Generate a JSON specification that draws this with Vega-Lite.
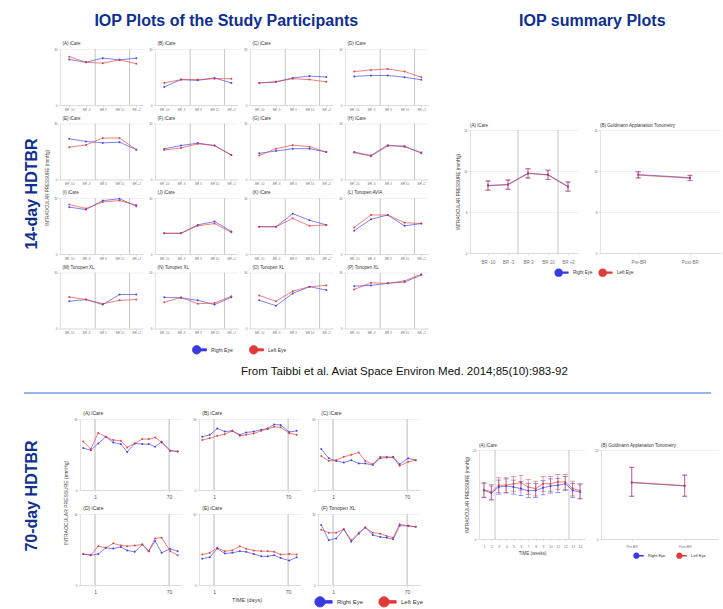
{
"$schema": "https://vega.github.io/schema/vega-lite/v6.json",
"background": "white",
"padding": {"left": 23, "top": 13, "right": 2, "bottom": 1},
"config": {
 "font": "Liberation Sans",
 "view": {"stroke": null},
 "axis": {"gridColor": "#e2e2e2", "gridWidth": 0.5, "domainColor": "#cccccc", "domainWidth": 0.6, "tickColor": "#c4c4c4", "tickSize": 2, "tickWidth": 0.5, "labelFontSize": 3, "labelColor": "#777777", "labelPadding": 1, "titleFontSize": 4.5, "titleFontWeight": "normal", "titleColor": "#444444", "titlePadding": 3},
 "axisX": {"grid": false},
 "axisY": {"grid": true},
 "title": {"fontSize": 4.5, "fontWeight": "normal", "color": "#333333", "anchor": "start", "offset": 2, "font": "Liberation Sans", "frame": "group"},
 "line": {"strokeWidth": 0.8, "opacity": 0.8},
 "circle": {"size": 4, "opacity": 0.9}
},
"datasets": {
 "g14": [
  {"r":1,"c":1,"t":1,"v":24.4,"e":"Right Eye","n":"(A) iCare"},{"r":1,"c":1,"t":2,"v":22.9,"e":"Right Eye"},{"r":1,"c":1,"t":3,"v":25.1,"e":"Right Eye"},{"r":1,"c":1,"t":4,"v":24.2,"e":"Right Eye"},{"r":1,"c":1,"t":5,"v":25.1,"e":"Right Eye"},
  {"r":1,"c":1,"t":1,"v":25.9,"e":"Left Eye"},{"r":1,"c":1,"t":2,"v":22.9,"e":"Left Eye"},{"r":1,"c":1,"t":3,"v":22.4,"e":"Left Eye"},{"r":1,"c":1,"t":4,"v":24.2,"e":"Left Eye"},{"r":1,"c":1,"t":5,"v":22.1,"e":"Left Eye"},
  {"r":1,"c":2,"t":1,"v":9.7,"e":"Right Eye","n":"(B) iCare"},{"r":1,"c":2,"t":2,"v":13.6,"e":"Right Eye"},{"r":1,"c":2,"t":3,"v":13.2,"e":"Right Eye"},{"r":1,"c":2,"t":4,"v":14.5,"e":"Right Eye"},{"r":1,"c":2,"t":5,"v":11.8,"e":"Right Eye"},
  {"r":1,"c":2,"t":1,"v":11.8,"e":"Left Eye"},{"r":1,"c":2,"t":2,"v":13.6,"e":"Left Eye"},{"r":1,"c":2,"t":3,"v":13.6,"e":"Left Eye"},{"r":1,"c":2,"t":4,"v":14.1,"e":"Left Eye"},{"r":1,"c":2,"t":5,"v":14.1,"e":"Left Eye"},
  {"r":1,"c":3,"t":1,"v":11.8,"e":"Right Eye","n":"(C) iCare"},{"r":1,"c":3,"t":2,"v":12.4,"e":"Right Eye"},{"r":1,"c":3,"t":3,"v":14.5,"e":"Right Eye"},{"r":1,"c":3,"t":4,"v":15.5,"e":"Right Eye"},{"r":1,"c":3,"t":5,"v":15.0,"e":"Right Eye"},
  {"r":1,"c":3,"t":1,"v":11.8,"e":"Left Eye"},{"r":1,"c":3,"t":2,"v":12.4,"e":"Left Eye"},{"r":1,"c":3,"t":3,"v":14.1,"e":"Left Eye"},{"r":1,"c":3,"t":4,"v":13.6,"e":"Left Eye"},{"r":1,"c":3,"t":5,"v":12.4,"e":"Left Eye"},
  {"r":1,"c":4,"t":1,"v":15.3,"e":"Right Eye","n":"(D) iCare"},{"r":1,"c":4,"t":2,"v":15.8,"e":"Right Eye"},{"r":1,"c":4,"t":3,"v":15.8,"e":"Right Eye"},{"r":1,"c":4,"t":4,"v":14.9,"e":"Right Eye"},{"r":1,"c":4,"t":5,"v":13.5,"e":"Right Eye"},
  {"r":1,"c":4,"t":1,"v":17.9,"e":"Left Eye"},{"r":1,"c":4,"t":2,"v":18.8,"e":"Left Eye"},{"r":1,"c":4,"t":3,"v":19.3,"e":"Left Eye"},{"r":1,"c":4,"t":4,"v":17.9,"e":"Left Eye"},{"r":1,"c":4,"t":5,"v":14.9,"e":"Left Eye"},
  {"r":2,"c":1,"t":1,"v":21.8,"e":"Right Eye","n":"(E) iCare"},{"r":2,"c":1,"t":2,"v":20.4,"e":"Right Eye"},{"r":2,"c":1,"t":3,"v":19.6,"e":"Right Eye"},{"r":2,"c":1,"t":4,"v":20.0,"e":"Right Eye"},{"r":2,"c":1,"t":5,"v":16.0,"e":"Right Eye"},
  {"r":2,"c":1,"t":1,"v":17.3,"e":"Left Eye"},{"r":2,"c":1,"t":2,"v":18.5,"e":"Left Eye"},{"r":2,"c":1,"t":3,"v":22.2,"e":"Left Eye"},{"r":2,"c":1,"t":4,"v":22.2,"e":"Left Eye"},{"r":2,"c":1,"t":5,"v":16.0,"e":"Left Eye"},
  {"r":2,"c":2,"t":1,"v":16.4,"e":"Right Eye","n":"(F) iCare"},{"r":2,"c":2,"t":2,"v":18.2,"e":"Right Eye"},{"r":2,"c":2,"t":3,"v":19.5,"e":"Right Eye"},{"r":2,"c":2,"t":4,"v":18.2,"e":"Right Eye"},{"r":2,"c":2,"t":5,"v":13.1,"e":"Right Eye"},
  {"r":2,"c":2,"t":1,"v":15.8,"e":"Left Eye"},{"r":2,"c":2,"t":2,"v":16.9,"e":"Left Eye"},{"r":2,"c":2,"t":3,"v":19.1,"e":"Left Eye"},{"r":2,"c":2,"t":4,"v":18.2,"e":"Left Eye"},{"r":2,"c":2,"t":5,"v":13.1,"e":"Left Eye"},
  {"r":2,"c":3,"t":1,"v":14.0,"e":"Right Eye","n":"(G) iCare"},{"r":2,"c":3,"t":2,"v":15.3,"e":"Right Eye"},{"r":2,"c":3,"t":3,"v":16.5,"e":"Right Eye"},{"r":2,"c":3,"t":4,"v":16.5,"e":"Right Eye"},{"r":2,"c":3,"t":5,"v":14.7,"e":"Right Eye"},
  {"r":2,"c":3,"t":1,"v":12.9,"e":"Left Eye"},{"r":2,"c":3,"t":2,"v":16.5,"e":"Left Eye"},{"r":2,"c":3,"t":3,"v":18.4,"e":"Left Eye"},{"r":2,"c":3,"t":4,"v":17.6,"e":"Left Eye"},{"r":2,"c":3,"t":5,"v":14.7,"e":"Left Eye"},
  {"r":2,"c":4,"t":1,"v":14.7,"e":"Right Eye","n":"(H) iCare"},{"r":2,"c":4,"t":2,"v":12.9,"e":"Right Eye"},{"r":2,"c":4,"t":3,"v":18.4,"e":"Right Eye"},{"r":2,"c":4,"t":4,"v":17.5,"e":"Right Eye"},{"r":2,"c":4,"t":5,"v":14.4,"e":"Right Eye"},
  {"r":2,"c":4,"t":1,"v":14.4,"e":"Left Eye"},{"r":2,"c":4,"t":2,"v":12.5,"e":"Left Eye"},{"r":2,"c":4,"t":3,"v":18.0,"e":"Left Eye"},{"r":2,"c":4,"t":4,"v":18.0,"e":"Left Eye"},{"r":2,"c":4,"t":5,"v":14.0,"e":"Left Eye"},
  {"r":3,"c":1,"t":1,"v":25.1,"e":"Right Eye","n":"(I) iCare"},{"r":3,"c":1,"t":2,"v":23.8,"e":"Right Eye"},{"r":3,"c":1,"t":3,"v":28.6,"e":"Right Eye"},{"r":3,"c":1,"t":4,"v":29.6,"e":"Right Eye"},{"r":3,"c":1,"t":5,"v":25.6,"e":"Right Eye"},
  {"r":3,"c":1,"t":1,"v":26.5,"e":"Left Eye"},{"r":3,"c":1,"t":2,"v":24.4,"e":"Left Eye"},{"r":3,"c":1,"t":3,"v":27.9,"e":"Left Eye"},{"r":3,"c":1,"t":4,"v":28.6,"e":"Left Eye"},{"r":3,"c":1,"t":5,"v":26.2,"e":"Left Eye"},
  {"r":3,"c":2,"t":1,"v":11.1,"e":"Right Eye","n":"(J) iCare"},{"r":3,"c":2,"t":2,"v":11.1,"e":"Right Eye"},{"r":3,"c":2,"t":3,"v":15.6,"e":"Right Eye"},{"r":3,"c":2,"t":4,"v":17.4,"e":"Right Eye"},{"r":3,"c":2,"t":5,"v":12.1,"e":"Right Eye"},
  {"r":3,"c":2,"t":1,"v":11.1,"e":"Left Eye"},{"r":3,"c":2,"t":2,"v":11.1,"e":"Left Eye"},{"r":3,"c":2,"t":3,"v":15.1,"e":"Left Eye"},{"r":3,"c":2,"t":4,"v":16.3,"e":"Left Eye"},{"r":3,"c":2,"t":5,"v":11.6,"e":"Left Eye"},
  {"r":3,"c":3,"t":1,"v":14.6,"e":"Right Eye","n":"(K) iCare"},{"r":3,"c":3,"t":2,"v":14.6,"e":"Right Eye"},{"r":3,"c":3,"t":3,"v":21.6,"e":"Right Eye"},{"r":3,"c":3,"t":4,"v":18.1,"e":"Right Eye"},{"r":3,"c":3,"t":5,"v":15.6,"e":"Right Eye"},
  {"r":3,"c":3,"t":1,"v":14.6,"e":"Left Eye"},{"r":3,"c":3,"t":2,"v":14.6,"e":"Left Eye"},{"r":3,"c":3,"t":3,"v":19.1,"e":"Left Eye"},{"r":3,"c":3,"t":4,"v":15.1,"e":"Left Eye"},{"r":3,"c":3,"t":5,"v":15.6,"e":"Left Eye"},
  {"r":3,"c":4,"t":1,"v":12.5,"e":"Right Eye","n":"(L) Tonopen AVIA"},{"r":3,"c":4,"t":2,"v":18.6,"e":"Right Eye"},{"r":3,"c":4,"t":3,"v":20.9,"e":"Right Eye"},{"r":3,"c":4,"t":4,"v":15.1,"e":"Right Eye"},{"r":3,"c":4,"t":5,"v":16.3,"e":"Right Eye"},
  {"r":3,"c":4,"t":1,"v":14.2,"e":"Left Eye"},{"r":3,"c":4,"t":2,"v":20.9,"e":"Left Eye"},{"r":3,"c":4,"t":3,"v":20.9,"e":"Left Eye"},{"r":3,"c":4,"t":4,"v":16.8,"e":"Left Eye"},{"r":3,"c":4,"t":5,"v":16.3,"e":"Left Eye"},
  {"r":4,"c":1,"t":1,"v":14.6,"e":"Right Eye","n":"(M) Tonopen XL"},{"r":4,"c":1,"t":2,"v":15.5,"e":"Right Eye"},{"r":4,"c":1,"t":3,"v":12.8,"e":"Right Eye"},{"r":4,"c":1,"t":4,"v":18.2,"e":"Right Eye"},{"r":4,"c":1,"t":5,"v":18.2,"e":"Right Eye"},
  {"r":4,"c":1,"t":1,"v":16.9,"e":"Left Eye"},{"r":4,"c":1,"t":2,"v":15.5,"e":"Left Eye"},{"r":4,"c":1,"t":3,"v":13.3,"e":"Left Eye"},{"r":4,"c":1,"t":4,"v":15.1,"e":"Left Eye"},{"r":4,"c":1,"t":5,"v":15.5,"e":"Left Eye"},
  {"r":4,"c":2,"t":1,"v":16.7,"e":"Right Eye","n":"(N) Tonopen XL"},{"r":4,"c":2,"t":2,"v":16.4,"e":"Right Eye"},{"r":4,"c":2,"t":3,"v":15.1,"e":"Right Eye"},{"r":4,"c":2,"t":4,"v":12.8,"e":"Right Eye"},{"r":4,"c":2,"t":5,"v":16.7,"e":"Right Eye"},
  {"r":4,"c":2,"t":1,"v":14.0,"e":"Left Eye"},{"r":4,"c":2,"t":2,"v":16.7,"e":"Left Eye"},{"r":4,"c":2,"t":3,"v":13.3,"e":"Left Eye"},{"r":4,"c":2,"t":4,"v":13.6,"e":"Left Eye"},{"r":4,"c":2,"t":5,"v":17.3,"e":"Left Eye"},
  {"r":4,"c":3,"t":1,"v":15.1,"e":"Right Eye","n":"(O) Tonopen XL"},{"r":4,"c":3,"t":2,"v":12.2,"e":"Right Eye"},{"r":4,"c":3,"t":3,"v":18.8,"e":"Right Eye"},{"r":4,"c":3,"t":4,"v":22.4,"e":"Right Eye"},{"r":4,"c":3,"t":5,"v":20.6,"e":"Right Eye"},
  {"r":4,"c":3,"t":1,"v":17.7,"e":"Left Eye"},{"r":4,"c":3,"t":2,"v":14.6,"e":"Left Eye"},{"r":4,"c":3,"t":3,"v":20.0,"e":"Left Eye"},{"r":4,"c":3,"t":4,"v":22.4,"e":"Left Eye"},{"r":4,"c":3,"t":5,"v":23.1,"e":"Left Eye"},
  {"r":4,"c":4,"t":1,"v":22.7,"e":"Right Eye","n":"(P) Tonopen XL"},{"r":4,"c":4,"t":2,"v":23.1,"e":"Right Eye"},{"r":4,"c":4,"t":3,"v":24.2,"e":"Right Eye"},{"r":4,"c":4,"t":4,"v":24.9,"e":"Right Eye"},{"r":4,"c":4,"t":5,"v":28.6,"e":"Right Eye"},
  {"r":4,"c":4,"t":1,"v":20.9,"e":"Left Eye"},{"r":4,"c":4,"t":2,"v":24.5,"e":"Left Eye"},{"r":4,"c":4,"t":3,"v":24.2,"e":"Left Eye"},{"r":4,"c":4,"t":4,"v":25.5,"e":"Left Eye"},{"r":4,"c":4,"t":5,"v":29.1,"e":"Left Eye"}
 ],
 "g70": [
  {"r":1,"c":1,"t":-10,"v":17.7,"e":"Right Eye","n":"(A) iCare"},{"r":1,"c":1,"t":-3,"v":16.8,"e":"Right Eye"},{"r":1,"c":1,"t":4,"v":19.7,"e":"Right Eye"},{"r":1,"c":1,"t":11,"v":22.5,"e":"Right Eye"},{"r":1,"c":1,"t":18,"v":20.1,"e":"Right Eye"},{"r":1,"c":1,"t":25,"v":19.4,"e":"Right Eye"},{"r":1,"c":1,"t":31,"v":16.1,"e":"Right Eye"},{"r":1,"c":1,"t":38,"v":19.7,"e":"Right Eye"},{"r":1,"c":1,"t":45,"v":19.4,"e":"Right Eye"},{"r":1,"c":1,"t":51,"v":19.4,"e":"Right Eye"},{"r":1,"c":1,"t":57,"v":18.3,"e":"Right Eye"},{"r":1,"c":1,"t":63,"v":20.4,"e":"Right Eye"},{"r":1,"c":1,"t":71,"v":16.6,"e":"Right Eye"},{"r":1,"c":1,"t":78,"v":16.3,"e":"Right Eye"},
  {"r":1,"c":1,"t":-10,"v":20.5,"e":"Left Eye"},{"r":1,"c":1,"t":-3,"v":17.3,"e":"Left Eye"},{"r":1,"c":1,"t":4,"v":24.1,"e":"Left Eye"},{"r":1,"c":1,"t":11,"v":22.5,"e":"Left Eye"},{"r":1,"c":1,"t":18,"v":21.1,"e":"Left Eye"},{"r":1,"c":1,"t":25,"v":20.8,"e":"Left Eye"},{"r":1,"c":1,"t":31,"v":18.0,"e":"Left Eye"},{"r":1,"c":1,"t":38,"v":19.7,"e":"Left Eye"},{"r":1,"c":1,"t":45,"v":21.5,"e":"Left Eye"},{"r":1,"c":1,"t":51,"v":21.5,"e":"Left Eye"},{"r":1,"c":1,"t":57,"v":22.2,"e":"Left Eye"},{"r":1,"c":1,"t":63,"v":20.1,"e":"Left Eye"},{"r":1,"c":1,"t":71,"v":16.6,"e":"Left Eye"},{"r":1,"c":1,"t":78,"v":16.3,"e":"Left Eye"},
  {"r":1,"c":2,"t":-10,"v":22.5,"e":"Right Eye","n":"(B) iCare"},{"r":1,"c":2,"t":-3,"v":23.3,"e":"Right Eye"},{"r":1,"c":2,"t":4,"v":26.0,"e":"Right Eye"},{"r":1,"c":2,"t":11,"v":24.7,"e":"Right Eye"},{"r":1,"c":2,"t":18,"v":25.0,"e":"Right Eye"},{"r":1,"c":2,"t":25,"v":23.3,"e":"Right Eye"},{"r":1,"c":2,"t":31,"v":24.3,"e":"Right Eye"},{"r":1,"c":2,"t":38,"v":24.7,"e":"Right Eye"},{"r":1,"c":2,"t":45,"v":25.5,"e":"Right Eye"},{"r":1,"c":2,"t":51,"v":26.0,"e":"Right Eye"},{"r":1,"c":2,"t":57,"v":27.7,"e":"Right Eye"},{"r":1,"c":2,"t":63,"v":27.5,"e":"Right Eye"},{"r":1,"c":2,"t":71,"v":24.5,"e":"Right Eye"},{"r":1,"c":2,"t":78,"v":25.0,"e":"Right Eye"},
  {"r":1,"c":2,"t":-10,"v":21.1,"e":"Left Eye"},{"r":1,"c":2,"t":-3,"v":21.9,"e":"Left Eye"},{"r":1,"c":2,"t":4,"v":22.9,"e":"Left Eye"},{"r":1,"c":2,"t":11,"v":23.6,"e":"Left Eye"},{"r":1,"c":2,"t":18,"v":25.0,"e":"Left Eye"},{"r":1,"c":2,"t":25,"v":22.9,"e":"Left Eye"},{"r":1,"c":2,"t":31,"v":23.3,"e":"Left Eye"},{"r":1,"c":2,"t":38,"v":23.9,"e":"Left Eye"},{"r":1,"c":2,"t":45,"v":25.0,"e":"Left Eye"},{"r":1,"c":2,"t":51,"v":25.8,"e":"Left Eye"},{"r":1,"c":2,"t":57,"v":26.7,"e":"Left Eye"},{"r":1,"c":2,"t":63,"v":26.5,"e":"Left Eye"},{"r":1,"c":2,"t":71,"v":24.0,"e":"Left Eye"},{"r":1,"c":2,"t":78,"v":23.3,"e":"Left Eye"},
  {"r":1,"c":3,"t":-10,"v":17.3,"e":"Right Eye","n":"(C) iCare"},{"r":1,"c":3,"t":-3,"v":13.4,"e":"Right Eye"},{"r":1,"c":3,"t":4,"v":12.3,"e":"Right Eye"},{"r":1,"c":3,"t":11,"v":11.6,"e":"Right Eye"},{"r":1,"c":3,"t":18,"v":12.6,"e":"Right Eye"},{"r":1,"c":3,"t":25,"v":11.2,"e":"Right Eye"},{"r":1,"c":3,"t":31,"v":11.2,"e":"Right Eye"},{"r":1,"c":3,"t":38,"v":10.6,"e":"Right Eye"},{"r":1,"c":3,"t":45,"v":13.4,"e":"Right Eye"},{"r":1,"c":3,"t":51,"v":13.7,"e":"Right Eye"},{"r":1,"c":3,"t":57,"v":14.0,"e":"Right Eye"},{"r":1,"c":3,"t":63,"v":10.9,"e":"Right Eye"},{"r":1,"c":3,"t":71,"v":13.4,"e":"Right Eye"},{"r":1,"c":3,"t":78,"v":12.6,"e":"Right Eye"},
  {"r":1,"c":3,"t":-10,"v":14.4,"e":"Left Eye"},{"r":1,"c":3,"t":-3,"v":12.3,"e":"Left Eye"},{"r":1,"c":3,"t":4,"v":12.6,"e":"Left Eye"},{"r":1,"c":3,"t":11,"v":14.0,"e":"Left Eye"},{"r":1,"c":3,"t":18,"v":14.9,"e":"Left Eye"},{"r":1,"c":3,"t":25,"v":15.8,"e":"Left Eye"},{"r":1,"c":3,"t":31,"v":12.3,"e":"Left Eye"},{"r":1,"c":3,"t":38,"v":10.9,"e":"Left Eye"},{"r":1,"c":3,"t":45,"v":14.0,"e":"Left Eye"},{"r":1,"c":3,"t":51,"v":14.0,"e":"Left Eye"},{"r":1,"c":3,"t":57,"v":13.7,"e":"Left Eye"},{"r":1,"c":3,"t":63,"v":10.2,"e":"Left Eye"},{"r":1,"c":3,"t":71,"v":11.9,"e":"Left Eye"},{"r":1,"c":3,"t":78,"v":12.6,"e":"Left Eye"},
  {"r":2,"c":1,"t":-10,"v":13.1,"e":"Right Eye","n":"(D) iCare"},{"r":2,"c":1,"t":-3,"v":12.6,"e":"Right Eye"},{"r":2,"c":1,"t":4,"v":13.1,"e":"Right Eye"},{"r":2,"c":1,"t":11,"v":15.7,"e":"Right Eye"},{"r":2,"c":1,"t":18,"v":15.4,"e":"Right Eye"},{"r":2,"c":1,"t":25,"v":16.1,"e":"Right Eye"},{"r":2,"c":1,"t":31,"v":14.6,"e":"Right Eye"},{"r":2,"c":1,"t":38,"v":14.0,"e":"Right Eye"},{"r":2,"c":1,"t":45,"v":17.1,"e":"Right Eye"},{"r":2,"c":1,"t":51,"v":14.3,"e":"Right Eye"},{"r":2,"c":1,"t":57,"v":18.6,"e":"Right Eye"},{"r":2,"c":1,"t":63,"v":13.6,"e":"Right Eye"},{"r":2,"c":1,"t":71,"v":15.3,"e":"Right Eye"},{"r":2,"c":1,"t":78,"v":14.3,"e":"Right Eye"},
  {"r":2,"c":1,"t":-10,"v":13.1,"e":"Left Eye"},{"r":2,"c":1,"t":-3,"v":12.6,"e":"Left Eye"},{"r":2,"c":1,"t":4,"v":16.4,"e":"Left Eye"},{"r":2,"c":1,"t":11,"v":15.7,"e":"Left Eye"},{"r":2,"c":1,"t":18,"v":17.6,"e":"Left Eye"},{"r":2,"c":1,"t":25,"v":16.7,"e":"Left Eye"},{"r":2,"c":1,"t":31,"v":16.4,"e":"Left Eye"},{"r":2,"c":1,"t":38,"v":16.7,"e":"Left Eye"},{"r":2,"c":1,"t":45,"v":17.1,"e":"Left Eye"},{"r":2,"c":1,"t":51,"v":14.3,"e":"Left Eye"},{"r":2,"c":1,"t":57,"v":19.7,"e":"Left Eye"},{"r":2,"c":1,"t":63,"v":20.0,"e":"Left Eye"},{"r":2,"c":1,"t":71,"v":14.3,"e":"Left Eye"},{"r":2,"c":1,"t":78,"v":12.6,"e":"Left Eye"},
  {"r":2,"c":2,"t":-10,"v":11.1,"e":"Right Eye","n":"(E) iCare"},{"r":2,"c":2,"t":-3,"v":11.7,"e":"Right Eye"},{"r":2,"c":2,"t":4,"v":15.4,"e":"Right Eye"},{"r":2,"c":2,"t":11,"v":13.3,"e":"Right Eye"},{"r":2,"c":2,"t":18,"v":13.6,"e":"Right Eye"},{"r":2,"c":2,"t":25,"v":14.3,"e":"Right Eye"},{"r":2,"c":2,"t":31,"v":14.0,"e":"Right Eye"},{"r":2,"c":2,"t":38,"v":13.1,"e":"Right Eye"},{"r":2,"c":2,"t":45,"v":12.1,"e":"Right Eye"},{"r":2,"c":2,"t":51,"v":12.1,"e":"Right Eye"},{"r":2,"c":2,"t":57,"v":12.6,"e":"Right Eye"},{"r":2,"c":2,"t":63,"v":11.4,"e":"Right Eye"},{"r":2,"c":2,"t":71,"v":10.3,"e":"Right Eye"},{"r":2,"c":2,"t":78,"v":11.7,"e":"Right Eye"},
  {"r":2,"c":2,"t":-10,"v":12.9,"e":"Left Eye"},{"r":2,"c":2,"t":-3,"v":13.6,"e":"Left Eye"},{"r":2,"c":2,"t":4,"v":15.7,"e":"Left Eye"},{"r":2,"c":2,"t":11,"v":14.3,"e":"Left Eye"},{"r":2,"c":2,"t":18,"v":14.6,"e":"Left Eye"},{"r":2,"c":2,"t":25,"v":16.4,"e":"Left Eye"},{"r":2,"c":2,"t":31,"v":15.3,"e":"Left Eye"},{"r":2,"c":2,"t":38,"v":14.6,"e":"Left Eye"},{"r":2,"c":2,"t":45,"v":14.3,"e":"Left Eye"},{"r":2,"c":2,"t":51,"v":14.3,"e":"Left Eye"},{"r":2,"c":2,"t":57,"v":14.0,"e":"Left Eye"},{"r":2,"c":2,"t":63,"v":12.9,"e":"Left Eye"},{"r":2,"c":2,"t":71,"v":13.1,"e":"Left Eye"},{"r":2,"c":2,"t":78,"v":12.9,"e":"Left Eye"},
  {"r":2,"c":3,"t":-10,"v":25.4,"e":"Right Eye","n":"(F) Tonopen XL"},{"r":2,"c":3,"t":-3,"v":18.9,"e":"Right Eye"},{"r":2,"c":3,"t":4,"v":19.7,"e":"Right Eye"},{"r":2,"c":3,"t":11,"v":23.6,"e":"Right Eye"},{"r":2,"c":3,"t":18,"v":18.3,"e":"Right Eye"},{"r":2,"c":3,"t":25,"v":21.7,"e":"Right Eye"},{"r":2,"c":3,"t":31,"v":24.3,"e":"Right Eye"},{"r":2,"c":3,"t":38,"v":21.1,"e":"Right Eye"},{"r":2,"c":3,"t":45,"v":20.3,"e":"Right Eye"},{"r":2,"c":3,"t":51,"v":20.0,"e":"Right Eye"},{"r":2,"c":3,"t":57,"v":19.3,"e":"Right Eye"},{"r":2,"c":3,"t":63,"v":25.0,"e":"Right Eye"},{"r":2,"c":3,"t":71,"v":25.0,"e":"Right Eye"},{"r":2,"c":3,"t":78,"v":24.6,"e":"Right Eye"},
  {"r":2,"c":3,"t":-10,"v":23.3,"e":"Left Eye"},{"r":2,"c":3,"t":-3,"v":22.1,"e":"Left Eye"},{"r":2,"c":3,"t":4,"v":22.1,"e":"Left Eye"},{"r":2,"c":3,"t":11,"v":23.6,"e":"Left Eye"},{"r":2,"c":3,"t":18,"v":18.9,"e":"Left Eye"},{"r":2,"c":3,"t":25,"v":22.1,"e":"Left Eye"},{"r":2,"c":3,"t":31,"v":24.3,"e":"Left Eye"},{"r":2,"c":3,"t":38,"v":22.1,"e":"Left Eye"},{"r":2,"c":3,"t":45,"v":21.7,"e":"Left Eye"},{"r":2,"c":3,"t":51,"v":20.7,"e":"Left Eye"},{"r":2,"c":3,"t":57,"v":20.0,"e":"Left Eye"},{"r":2,"c":3,"t":63,"v":25.7,"e":"Left Eye"},{"r":2,"c":3,"t":71,"v":25.0,"e":"Left Eye"},{"r":2,"c":3,"t":78,"v":24.6,"e":"Left Eye"}
 ],
 "s14a": [
  {"t":1,"v":13.2,"lo":12.3,"hi":14.1,"e":"Right Eye"},{"t":2,"v":13.3,"lo":12.4,"hi":14.2,"e":"Right Eye"},{"t":3,"v":15.5,"lo":14.6,"hi":16.4,"e":"Right Eye"},{"t":4,"v":15.3,"lo":14.4,"hi":16.2,"e":"Right Eye"},{"t":5,"v":13.0,"lo":12.1,"hi":13.9,"e":"Right Eye"},
  {"t":1,"v":13.1,"lo":12.2,"hi":14.0,"e":"Left Eye"},{"t":2,"v":13.4,"lo":12.5,"hi":14.3,"e":"Left Eye"},{"t":3,"v":15.6,"lo":14.7,"hi":16.5,"e":"Left Eye"},{"t":4,"v":15.2,"lo":14.3,"hi":16.1,"e":"Left Eye"},{"t":5,"v":12.9,"lo":12.0,"hi":13.8,"e":"Left Eye"}
 ],
 "s14b": [
  {"t":1,"v":15.3,"lo":14.7,"hi":15.9,"e":"Right Eye"},{"t":2,"v":14.7,"lo":14.2,"hi":15.2,"e":"Right Eye"},
  {"t":1,"v":15.2,"lo":14.6,"hi":15.8,"e":"Left Eye"},{"t":2,"v":14.6,"lo":14.1,"hi":15.1,"e":"Left Eye"}
 ],
 "s70a": [
  {"t":1,"v":13.1,"lo":11.2,"hi":15.0,"e":"Right Eye"},{"t":2,"v":12.4,"lo":10.5,"hi":14.3,"e":"Right Eye"},{"t":3,"v":14.0,"lo":12.1,"hi":15.9,"e":"Right Eye"},{"t":4,"v":14.3,"lo":12.4,"hi":16.2,"e":"Right Eye"},{"t":5,"v":14.0,"lo":12.1,"hi":15.9,"e":"Right Eye"},{"t":6,"v":13.6,"lo":11.7,"hi":15.5,"e":"Right Eye"},{"t":7,"v":13.0,"lo":11.1,"hi":14.9,"e":"Right Eye"},{"t":8,"v":13.1,"lo":11.2,"hi":15.0,"e":"Right Eye"},{"t":9,"v":13.8,"lo":11.9,"hi":15.7,"e":"Right Eye"},{"t":10,"v":14.3,"lo":12.4,"hi":16.2,"e":"Right Eye"},{"t":11,"v":14.5,"lo":12.6,"hi":16.4,"e":"Right Eye"},{"t":12,"v":14.9,"lo":13.0,"hi":16.8,"e":"Right Eye"},{"t":13,"v":13.1,"lo":11.2,"hi":15.0,"e":"Right Eye"},{"t":14,"v":12.7,"lo":10.8,"hi":14.6,"e":"Right Eye"},
  {"t":1,"v":13.3,"lo":11.3,"hi":15.3,"e":"Left Eye"},{"t":2,"v":12.7,"lo":10.7,"hi":14.7,"e":"Left Eye"},{"t":3,"v":14.5,"lo":12.5,"hi":16.5,"e":"Left Eye"},{"t":4,"v":14.5,"lo":12.5,"hi":16.5,"e":"Left Eye"},{"t":5,"v":14.9,"lo":12.9,"hi":16.9,"e":"Left Eye"},{"t":6,"v":15.2,"lo":13.2,"hi":17.2,"e":"Left Eye"},{"t":7,"v":14.0,"lo":12.0,"hi":16.0,"e":"Left Eye"},{"t":8,"v":13.6,"lo":11.6,"hi":15.6,"e":"Left Eye"},{"t":9,"v":14.9,"lo":12.9,"hi":16.9,"e":"Left Eye"},{"t":10,"v":14.9,"lo":12.9,"hi":16.9,"e":"Left Eye"},{"t":11,"v":15.4,"lo":13.4,"hi":17.4,"e":"Left Eye"},{"t":12,"v":15.4,"lo":13.4,"hi":17.4,"e":"Left Eye"},{"t":13,"v":13.6,"lo":11.6,"hi":15.6,"e":"Left Eye"},{"t":14,"v":13.0,"lo":11.0,"hi":15.0,"e":"Left Eye"}
 ],
 "s70b": [
  {"t":1,"v":15.2,"lo":11.5,"hi":19.3,"e":"Right Eye"},{"t":2,"v":14.3,"lo":11.5,"hi":17.2,"e":"Right Eye"},
  {"t":1,"v":15.3,"lo":11.6,"hi":19.4,"e":"Left Eye"},{"t":2,"v":14.4,"lo":11.6,"hi":17.3,"e":"Left Eye"}
 ]
},
"spacing": 10,
"resolve": {"scale": {"color": "independent"}},
"vconcat": [
 {
  "spacing": 4,
  "resolve": {"scale": {"color": "independent"}},
  "hconcat": [
   {
    "width": 16, "height": 290,
    "data": {"values": [{"s": "14-day HDTBR"}]},
    "mark": {"type": "text", "angle": 270, "fontSize": 16, "fontWeight": "bold", "color": "#0f2f8f"},
    "encoding": {"text": {"field": "s"}}
   },
   {
    "spacing": 27,
    "resolve": {"scale": {"color": "independent"}},
    "hconcat": [
     {
      "title": {"text": "IOP Plots of the Study Participants", "anchor": "middle", "frame": "bounds", "fontSize": 16, "fontWeight": "bold", "color": "#0f2f8f", "offset": 12, "dx": -10},
      "data": {"name": "g14"},
      "bounds": "flush",
      "spacing": {"row": 18.5, "column": 12},
      "facet": {
       "row": {"field": "r", "type": "ordinal", "title": "INTRAOCULAR PRESSURE (mmHg)", "header": {"labels": false, "titleFontSize": 4.5, "titleFontWeight": "normal", "titleColor": "#555555", "titlePadding": 1}},
       "column": {"field": "c", "type": "ordinal", "title": null, "header": {"labels": false}}
      },
      "resolve": {"axis": {"x": "independent", "y": "independent"}},
      "spec": {
       "width": 83, "height": 56,
       "encoding": {"x": {"field": "t", "type": "quantitative", "scale": {"domain": [0.45, 5.4]}, "axis": {"title": null, "values": [1,2,3,4,5], "labelExpr": "['BR -10','BR -3','BR 3','BR 10','BR +2'][datum.value-1]"}}},
       "layer": [
        {"transform": [{"filter": "datum.n"}], "mark": {"type": "rule", "color": "#c6c6c6", "strokeWidth": 1}, "encoding": {"x": {"datum": 2.55}}},
        {"transform": [{"filter": "datum.n"}], "mark": {"type": "rule", "color": "#c6c6c6", "strokeWidth": 1}, "encoding": {"x": {"datum": 4.6}}},
        {"mark": "line", "encoding": {"y": {"field": "v", "type": "quantitative", "scale": {"domain": [0, 30]}, "axis": {"title": null, "values": [0,2,4,6,8,10,12,14,16,18,20,22,24,26,28,30]}}, "color": {"field": "e", "type": "nominal", "scale": {"domain": ["Right Eye", "Left Eye"], "range": ["#3a3ae0", "#e03a3a"]}}}},
        {"mark": "circle", "encoding": {"y": {"field": "v", "type": "quantitative"}, "color": {"field": "e", "type": "nominal", "legend": {"title": null, "orient": "none", "legendX": 132, "legendY": 293, "direction": "horizontal", "symbolType": "M-1,0A0.6,0.6 0 1,0 0.2,0A0.6,0.6 0 1,0 -1,0ZM-0.4,-0.15L-0.4,0.15L1,0.15L1,-0.15Z", "symbolSize": 200, "symbolStrokeWidth": 0, "symbolOpacity": 1, "labelFontSize": 5, "labelColor": "#333333", "columnPadding": 14}}}},
        {"transform": [{"filter": "datum.n"}], "mark": {"type": "text", "align": "left", "baseline": "bottom", "dy": -3, "fontSize": 4.5, "color": "#333333"}, "encoding": {"x": {"datum": 0.6}, "y": {"datum": 30}, "text": {"field": "n"}}}
       ]
      }
     },
     {
      "title": {"text": "IOP summary Plots", "anchor": "middle", "frame": "bounds", "fontSize": 16, "fontWeight": "bold", "color": "#0f2f8f", "offset": 20, "dx": 4},
      "spacing": 8,
      "vconcat": [
       {
        "width": 10, "height": 65,
        "data": {"values": [{"s": ""}]},
        "mark": {"type": "text"},
        "encoding": {"text": {"field": "s"}}
       },
       {
        "spacing": 15,
        "hconcat": [
         {
          "width": 108, "height": 123,
          "title": "(A) iCare",
          "data": {"name": "s14a"},
          "encoding": {"x": {"field": "t", "type": "quantitative", "scale": {"domain": [0.1, 5.5]}, "axis": {"title": null, "values": [1,2,3,4,5], "labelExpr": "['BR -10','BR -3','BR 3','BR 10','BR +2'][datum.value-1]", "labelFontSize": 4.5, "labelPadding": 4}}},
          "layer": [
           {"transform": [{"filter": "datum.t==1 && datum.e=='Right Eye'"}], "mark": {"type": "rule", "color": "#c6c6c6", "strokeWidth": 1}, "encoding": {"x": {"datum": 2.5}}},
           {"transform": [{"filter": "datum.t==1 && datum.e=='Right Eye'"}], "mark": {"type": "rule", "color": "#c6c6c6", "strokeWidth": 1}, "encoding": {"x": {"datum": 4.5}}},
           {"mark": {"type": "errorbar", "ticks": {"opacity": 1}, "rule": {"opacity": 1}, "thickness": 0.5}, "encoding": {"y": {"field": "lo", "type": "quantitative", "scale": {"domain": [0, 24]}, "axis": {"title": "INTRAOCULAR PRESSURE (mmHg)", "values": [0,2,4,6,8,10,12,14,16,18,20,22,24]}}, "y2": {"field": "hi"}, "color": {"field": "e", "type": "nominal", "scale": {"domain": ["Right Eye", "Left Eye"], "range": ["#3a3ae0", "#e03a3a"]}}}},
           {"mark": "line", "encoding": {"y": {"field": "v", "type": "quantitative", "axis": {"title": "INTRAOCULAR PRESSURE (mmHg)"}}, "color": {"field": "e", "type": "nominal"}}},
           {"mark": "circle", "encoding": {"y": {"field": "v", "type": "quantitative", "axis": {"title": "INTRAOCULAR PRESSURE (mmHg)"}}, "color": {"field": "e", "type": "nominal", "legend": {"title": null, "orient": "none", "legendX": 84, "legendY": 216, "direction": "horizontal", "symbolType": "M-1,0A0.6,0.6 0 1,0 0.2,0A0.6,0.6 0 1,0 -1,0ZM-0.4,-0.15L-0.4,0.15L1,0.15L1,-0.15Z", "symbolSize": 200, "symbolStrokeWidth": 0, "symbolOpacity": 1, "labelFontSize": 4.5, "labelColor": "#333333", "columnPadding": 5}}}}
          ]
         },
         {
          "width": 121, "height": 123,
          "title": "(B) Goldmann Applanation Tonometry",
          "data": {"name": "s14b"},
          "encoding": {"x": {"field": "t", "type": "quantitative", "scale": {"domain": [0.26, 2.6]}, "axis": {"title": null, "values": [1,2], "labelExpr": "datum.value==1?'Pre-BR':'Post-BR'", "labelFontSize": 4.5, "labelPadding": 4}}},
          "layer": [
           {"mark": {"type": "errorbar", "ticks": {"opacity": 1}, "rule": {"opacity": 1}, "thickness": 0.5}, "encoding": {"y": {"field": "lo", "type": "quantitative", "scale": {"domain": [0, 24]}, "axis": {"title": null, "values": [0,2,4,6,8,10,12,14,16,18,20,22,24]}}, "y2": {"field": "hi"}, "color": {"field": "e", "type": "nominal"}}},
           {"mark": "line", "encoding": {"y": {"field": "v", "type": "quantitative", "axis": {"title": null}}, "color": {"field": "e", "type": "nominal"}}},
           {"mark": "circle", "encoding": {"y": {"field": "v", "type": "quantitative", "axis": {"title": null}}, "color": {"field": "e", "type": "nominal"}}}
          ]
         }
        ]
       }
      ]
     }
    ]
   }
  ]
 },
 {
  "width": 434, "height": 8,
  "data": {"values": [{"s": "From Taibbi et al. Aviat Space Environ Med. 2014;85(10):983-92"}]},
  "mark": {"type": "text", "align": "left", "fontSize": 11.5, "color": "#111111"},
  "encoding": {"text": {"field": "s"}}
 },
 {
  "width": 687, "height": 13,
  "data": {"values": [{"s": 0}]},
  "mark": {"type": "rule", "color": "#2a6be6", "strokeWidth": 1.2},
  "encoding": {"y": {"datum": 0.615, "scale": {"domain": [0, 1]}, "axis": null}}
 },
 {
  "spacing": 22,
  "resolve": {"scale": {"color": "independent"}},
  "hconcat": [
   {
    "width": 16, "height": 154,
    "data": {"values": [{"s": "70-day HDTBR"}]},
    "mark": {"type": "text", "angle": 270, "fontSize": 16, "fontWeight": "bold", "color": "#0f2f8f"},
    "encoding": {"text": {"field": "s"}}
   },
   {
    "spacing": 40,
    "resolve": {"scale": {"color": "independent"}},
    "hconcat": [
     {
      "data": {"name": "g70"},
      "bounds": "flush",
      "spacing": {"row": 24, "column": 17},
      "facet": {
       "row": {"field": "r", "type": "ordinal", "title": "INTRAOCULAR PRESSURE (mmHg)", "header": {"labels": false, "titleFontSize": 5, "titleFontWeight": "normal", "titleColor": "#444444", "titlePadding": 1}},
       "column": {"field": "c", "type": "ordinal", "title": "TIME (days)", "header": {"labels": false, "titleOrient": "bottom", "titleFontSize": 5.5, "titleFontWeight": "normal", "titleColor": "#444444", "titlePadding": 3}}
      },
      "resolve": {"axis": {"x": "independent", "y": "independent"}},
      "spec": {
       "width": 102, "height": 71,
       "encoding": {"x": {"field": "t", "type": "quantitative", "scale": {"domain": [-13, 82]}, "axis": {"title": null, "values": [1, 70], "labelFontSize": 5, "labelColor": "#555555", "labelPadding": 2}}},
       "layer": [
        {"transform": [{"filter": "datum.n"}], "mark": {"type": "rule", "color": "#c6c6c6", "strokeWidth": 1.2}, "encoding": {"x": {"datum": 1}}},
        {"transform": [{"filter": "datum.n"}], "mark": {"type": "rule", "color": "#c6c6c6", "strokeWidth": 1.2}, "encoding": {"x": {"datum": 70}}},
        {"mark": "line", "encoding": {"y": {"field": "v", "type": "quantitative", "scale": {"domain": [0, 30]}, "axis": {"title": null, "values": [0,2.5,5,7.5,10,12.5,15,17.5,20,22.5,25,27.5,30]}}, "color": {"field": "e", "type": "nominal", "scale": {"domain": ["Right Eye", "Left Eye"], "range": ["#3a3ae0", "#e03a3a"]}}}},
        {"mark": "circle", "encoding": {"y": {"field": "v", "type": "quantitative"}, "color": {"field": "e", "type": "nominal", "legend": {"title": null, "orient": "none", "legendX": 234, "legendY": 173, "direction": "horizontal", "symbolType": "M-1,0A0.6,0.6 0 1,0 0.2,0A0.6,0.6 0 1,0 -1,0ZM-0.4,-0.15L-0.4,0.15L1,0.15L1,-0.15Z", "symbolSize": 300, "symbolStrokeWidth": 0, "symbolOpacity": 1, "labelFontSize": 6, "labelColor": "#333333", "columnPadding": 13}}}},
        {"transform": [{"filter": "datum.n"}], "mark": {"type": "text", "align": "left", "baseline": "bottom", "dy": -3, "fontSize": 5, "color": "#333333"}, "encoding": {"x": {"datum": -10}, "y": {"datum": 30}, "text": {"field": "n"}}}
       ]
      }
     },
     {
      "spacing": 8,
      "vconcat": [
       {
        "width": 10, "height": 15,
        "data": {"values": [{"s": ""}]},
        "mark": {"type": "text"},
        "encoding": {"text": {"field": "s"}}
       },
       {
        "spacing": 9,
        "hconcat": [
         {
          "width": 106, "height": 89,
          "title": "(A) iCare",
          "data": {"name": "s70a"},
          "encoding": {"x": {"field": "t", "type": "quantitative", "scale": {"domain": [0.33, 14.67]}, "axis": {"title": "TIME (weeks)", "values": [1,2,3,4,5,6,7,8,9,10,11,12,13,14], "labelFontSize": 3.5, "labelPadding": 3}}},
          "layer": [
           {"transform": [{"filter": "datum.t==1 && datum.e=='Right Eye'"}], "mark": {"type": "rule", "color": "#c6c6c6", "strokeWidth": 1}, "encoding": {"x": {"datum": 2.5}}},
           {"transform": [{"filter": "datum.t==1 && datum.e=='Right Eye'"}], "mark": {"type": "rule", "color": "#c6c6c6", "strokeWidth": 1}, "encoding": {"x": {"datum": 12.5}}},
           {"mark": {"type": "errorbar", "ticks": {"opacity": 1}, "rule": {"opacity": 1}, "thickness": 0.5}, "encoding": {"y": {"field": "lo", "type": "quantitative", "scale": {"domain": [0, 24]}, "axis": {"title": "INTRAOCULAR PRESSURE (mmHg)", "values": [0,2,4,6,8,10,12,14,16,18,20,22,24]}}, "y2": {"field": "hi"}, "color": {"field": "e", "type": "nominal", "scale": {"domain": ["Right Eye", "Left Eye"], "range": ["#3a3ae0", "#e03a3a"]}}}},
           {"mark": "line", "encoding": {"y": {"field": "v", "type": "quantitative", "axis": {"title": "INTRAOCULAR PRESSURE (mmHg)"}}, "color": {"field": "e", "type": "nominal"}}},
           {"mark": "circle", "encoding": {"y": {"field": "v", "type": "quantitative", "axis": {"title": "INTRAOCULAR PRESSURE (mmHg)"}}, "color": {"field": "e", "type": "nominal", "legend": {"title": null, "orient": "none", "legendX": 154, "legendY": 131, "direction": "horizontal", "symbolType": "M-1,0A0.6,0.6 0 1,0 0.2,0A0.6,0.6 0 1,0 -1,0ZM-0.4,-0.15L-0.4,0.15L1,0.15L1,-0.15Z", "symbolSize": 110, "symbolStrokeWidth": 0, "symbolOpacity": 1, "labelFontSize": 4, "labelColor": "#333333", "columnPadding": 10}}}}
          ]
         },
         {
          "width": 117, "height": 89,
          "title": "(B) Goldmann Applanation Tonometry",
          "data": {"name": "s70b"},
          "encoding": {"x": {"field": "t", "type": "quantitative", "scale": {"domain": [0.42, 2.63]}, "axis": {"title": null, "values": [1,2], "labelExpr": "datum.value==1?'Pre-BR':'Post-BR'", "labelFontSize": 3.5, "labelPadding": 3}}},
          "layer": [
           {"mark": {"type": "errorbar", "ticks": {"opacity": 1}, "rule": {"opacity": 1}, "thickness": 0.5}, "encoding": {"y": {"field": "lo", "type": "quantitative", "scale": {"domain": [0, 24]}, "axis": {"title": null, "values": [0,2,4,6,8,10,12,14,16,18,20,22,24]}}, "y2": {"field": "hi"}, "color": {"field": "e", "type": "nominal"}}},
           {"mark": "line", "encoding": {"y": {"field": "v", "type": "quantitative", "axis": {"title": null}}, "color": {"field": "e", "type": "nominal"}}},
           {"mark": "circle", "encoding": {"y": {"field": "v", "type": "quantitative", "axis": {"title": null}}, "color": {"field": "e", "type": "nominal"}}}
          ]
         }
        ]
       }
      ]
     }
    ]
   }
  ]
 }
]
}
